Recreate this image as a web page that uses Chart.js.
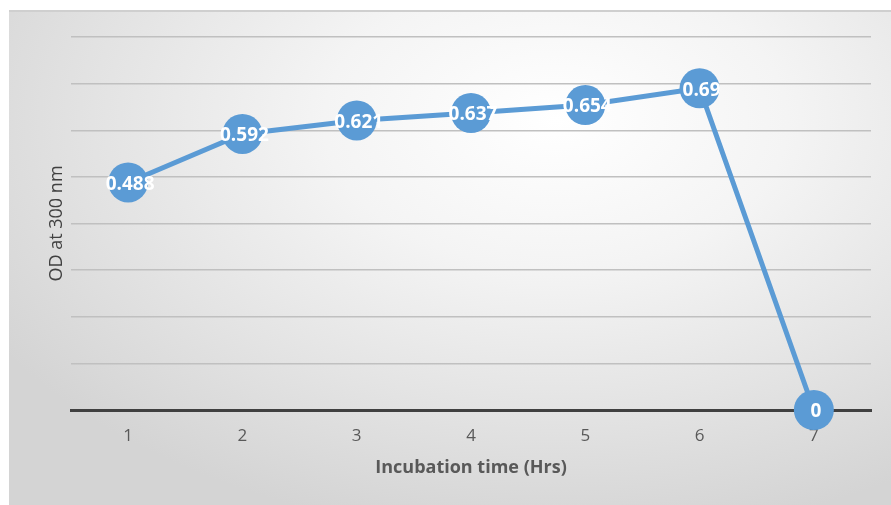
<!DOCTYPE html>
<html>
<head>
<meta charset="utf-8">
<script src="https://cdn.jsdelivr.net/npm/chart.js@4"></script>
<style>
  html, body { margin: 0; padding: 0; background: #fff; }
  #wrap { position: relative; width: 891px; height: 505px; }
  #bg {
    position: absolute; left: 9px; top: 10px; width: 882px; height: 495px;
    border-top: 2px solid #cfcfcf; box-sizing: border-box;
    background: radial-gradient(ellipse 75% 85% at 62% 22%, #ffffff 0%, #f4f4f4 35%, #e3e3e3 70%, #d4d4d4 100%);
  }
  #grafico { position: absolute; left: 0; top: 0; }
</style>
</head>
<body>
<div id="wrap">
  <div id="bg"></div>
  <canvas id="grafico" width="891" height="505"></canvas>
</div>
<script>
const horas = ["1", "2", "3", "4", "5", "6", "7"];
const densidad = [0.488, 0.592, 0.621, 0.637, 0.654, 0.69, 0];
const etiquetas = ["0.488", "0.592", "0.621", "0.637", "0.654", "0.69", "0"];

// etiquetas blancas encima de cada punto
const rotulos = {
    id: "rotulos",
    afterDatasetsDraw(chart) {
        const ctx = chart.ctx;
        const puntos = chart.getDatasetMeta(0).data;
        ctx.save();
        ctx.fillStyle = "#ffffff";
        ctx.font = "bold 19px 'Open Sans'";
        ctx.textAlign = "center";
        ctx.textBaseline = "middle";
        puntos.forEach((p, i) => {
            ctx.fillText(etiquetas[i], p.x + 2, p.y + 2);
        });
        ctx.restore();
    },
};

new Chart(document.querySelector("#grafico").getContext("2d"), {
    type: "line",
    data: {
        labels: horas,
        datasets: [{
            data: densidad,
            borderColor: "#5b9bd5",
            backgroundColor: "#5b9bd5",
            borderWidth: 5,
            pointRadius: 20,
            pointHoverRadius: 20,
            pointBorderWidth: 0,
            tension: 0,
            clip: false,
        }],
    },
    options: {
        responsive: false,
        animation: false,
        events: [],
        layout: { padding: { left: 42, top: 37, right: 10, bottom: 22 } },
        plugins: { legend: { display: false }, tooltip: { enabled: false } },
        scales: {
            x: {
                offset: true,
                grid: { display: false, drawTicks: false },
                border: { display: true, color: "#404040", width: 3 },
                ticks: { color: "#595959", font: { family: "Open Sans", size: 17 }, padding: 16 },
                title: {
                    display: true,
                    text: "Incubation time (Hrs)",
                    color: "#595959",
                    font: { family: "Open Sans", size: 18, weight: "bold" },
                    padding: { top: 4, bottom: 4 },
                },
                afterFit: (escala) => { escala.height = 73; },
            },
            y: {
                min: 0,
                max: 0.8,
                ticks: { display: false, stepSize: 0.1 },
                border: { display: false },
                grid: {
                    drawTicks: false,
                    color: (c) => (c.tick.value === 0 ? "#404040" : "#c0c0c0"),
                    lineWidth: (c) => (c.tick.value === 0 ? 3 : 1.5),
                },
                title: {
                    display: true,
                    text: "OD at 300 nm",
                    color: "#404040",
                    font: { family: "Open Sans", size: 18 },
                    padding: { top: 4, bottom: 4 },
                },
                afterFit: (escala) => { escala.width = 29; },
            },
        },
    },
    plugins: [rotulos],
});
</script>
</body>
</html>
